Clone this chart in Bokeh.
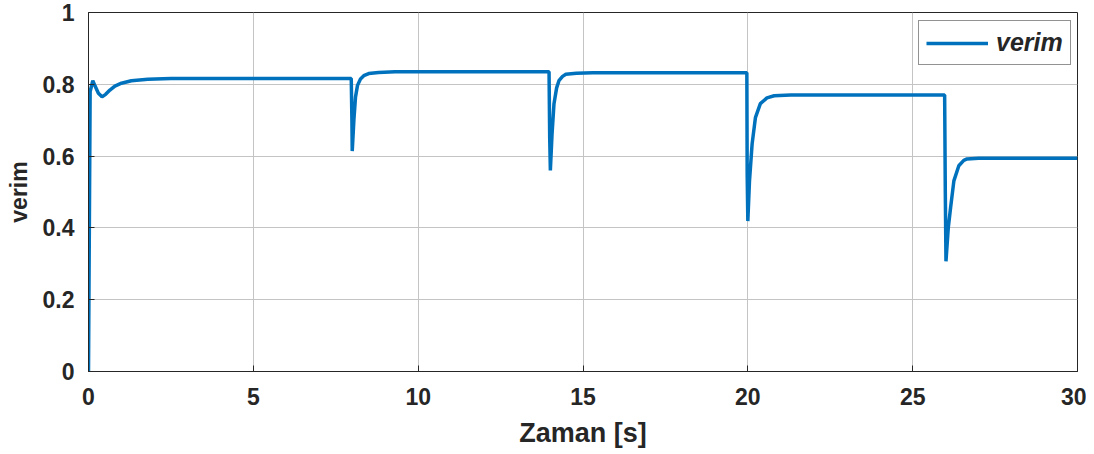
from bokeh.plotting import figure
from bokeh.embed import file_html
from bokeh.resources import INLINE
from bokeh.models import ColumnDataSource, Legend, LegendItem, Range1d, FixedTicker

# ---- data ----
t_vals = [0, 0.05, 0.13, 0.2, 0.3, 0.41, 0.52, 0.65, 0.8, 1.0, 1.3, 1.8, 2.5, 4.0, 6.0, 7.97,
          7.99, 8.0, 8.05, 8.1, 8.16, 8.25, 8.35, 8.5, 8.8, 9.3, 10.5, 12.0, 13.97,
          13.99, 14.01, 14.06, 14.12, 14.2, 14.27, 14.38, 14.48, 14.8, 15.3, 16.5, 18.0, 19.97,
          19.98, 20.0, 20.05, 20.13, 20.23, 20.38, 20.58, 20.8, 21.3, 22.5, 24.0, 25.97,
          25.99, 26.01, 26.08, 26.15, 26.25, 26.4, 26.55, 26.65, 27.0, 27.5, 28.5, 30.0]
verim_vals = [0, 0.78, 0.81, 0.795, 0.775, 0.765, 0.772, 0.784, 0.795, 0.803, 0.81, 0.814, 0.816, 0.816, 0.816, 0.816,
              0.70, 0.614, 0.70, 0.765, 0.797, 0.815, 0.824, 0.83, 0.833, 0.835, 0.835, 0.835, 0.835,
              0.65, 0.56, 0.66, 0.746, 0.79, 0.81, 0.822, 0.828, 0.831, 0.832, 0.832, 0.832, 0.832,
              0.55, 0.419, 0.53, 0.634, 0.707, 0.746, 0.762, 0.768, 0.77, 0.77, 0.77, 0.77,
              0.5, 0.307, 0.40, 0.456, 0.531, 0.573, 0.588, 0.592, 0.594, 0.594, 0.594, 0.594]

x_ticks = [0, 5, 10, 15, 20, 25, 30]
y_ticks = [0, 0.2, 0.4, 0.6, 0.8, 1.0]
y_tick_labels = ["0", "0.2", "0.4", "0.6", "0.8", "1"]

FONT = "Liberation Sans"
TXT = "#262626"

p = figure(width=1086, height=450, output_backend="svg", toolbar_location=None,
           x_range=Range1d(0, 30), y_range=Range1d(0, 1),
           min_border_left=88, min_border_right=9, min_border_top=12, min_border_bottom=76)
p.background_fill_color = "white"
p.border_fill_color = "white"
p.outline_line_color = TXT
p.outline_line_width = 1

src = ColumnDataSource(dict(t=t_vals, v=verim_vals))
r = p.line("t", "v", source=src, line_color="#0072BD", line_width=3.5)

for ax, ticks in ((p.xaxis[0], x_ticks), (p.yaxis[0], y_ticks)):
    ax.ticker = FixedTicker(ticks=ticks)
    ax.major_label_text_font = FONT
    ax.major_label_text_font_style = "bold"
    ax.major_label_text_font_size = "23px"
    ax.major_label_text_color = TXT
    ax.axis_line_color = TXT
    ax.major_tick_line_color = TXT
    ax.major_tick_in = 6
    ax.major_tick_out = 0
    ax.minor_tick_line_color = None
    ax.axis_label_text_font = FONT
    ax.axis_label_text_font_style = "bold"
    ax.axis_label_text_color = TXT

p.xaxis[0].major_label_overrides = {v: str(v) for v in x_ticks}
p.yaxis[0].major_label_overrides = {v: s for v, s in zip(y_ticks, y_tick_labels)}
p.xaxis[0].axis_label = "Zaman [s]"
p.xaxis[0].axis_label_text_font_size = "27px"
p.xaxis[0].major_label_standoff = 16
p.xaxis[0].axis_label_standoff = 10
p.yaxis[0].axis_label = "verim"
p.yaxis[0].axis_label_text_font_size = "23px"
p.yaxis[0].major_label_standoff = 14
p.yaxis[0].axis_label_standoff = 8

p.xgrid.grid_line_color = "#c4c4c4"
p.ygrid.grid_line_color = "#c4c4c4"
p.xgrid.grid_line_width = 1
p.ygrid.grid_line_width = 1

legend = Legend(items=[LegendItem(label="verim", renderers=[r])], location=(830, 306))
legend.label_text_font = FONT
legend.label_text_font_style = "bold italic"
legend.label_text_font_size = "25px"
legend.label_text_color = TXT
legend.glyph_width = 62
legend.glyph_height = 24
legend.label_height = 24
legend.label_standoff = 8
legend.padding = 7
legend.spacing = 0
legend.margin = 0
legend.border_line_color = TXT
legend.border_line_width = 1
legend.background_fill_color = "white"
legend.background_fill_alpha = 1
p.add_layout(legend)

open("out.html", "w").write(file_html(p, INLINE))
